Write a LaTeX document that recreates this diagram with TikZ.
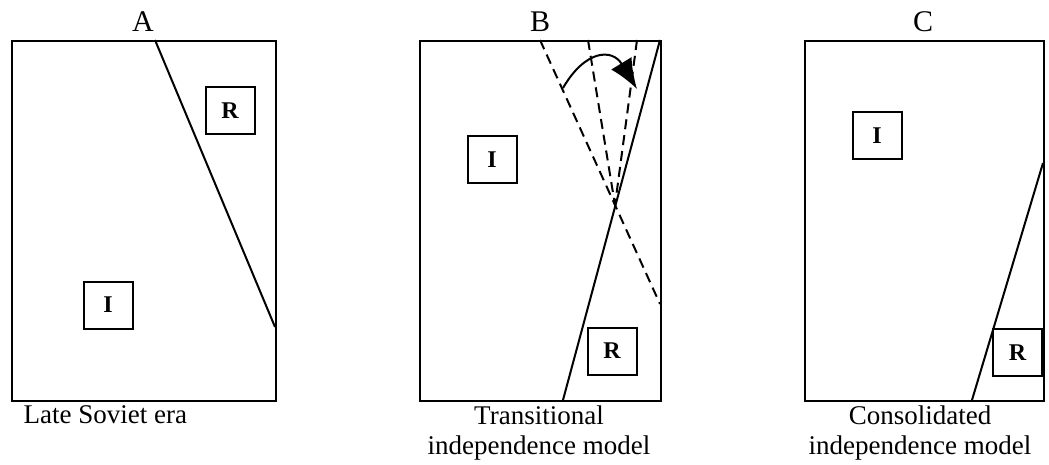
\documentclass[tikz,border=0pt]{standalone}
\usepackage{fontspec}
\setmainfont{Liberation Serif}
\usetikzlibrary{arrows.meta}
\begin{document}
\begin{tikzpicture}[x=1pt,y=-1pt,
  frame/.style={draw,line width=2pt},
  party/.style={draw,line width=2pt,minimum width=49pt,minimum height=47pt,inner sep=0pt,font=\fontsize{24}{24}\selectfont\bfseries},
  divide/.style={line width=2pt},
  dashdiv/.style={line width=2pt,dash pattern=on 10pt off 6pt},
  head/.style={font=\fontsize{30}{30}\selectfont,anchor=base},
  caption/.style={font=\fontsize{27}{30}\selectfont,align=center,anchor=north}]
\useasboundingbox (0,0) rectangle (1049,465);
% panel A
\node[frame,minimum width=264pt,minimum height=360pt,inner sep=0pt,anchor=north west] (fa) at (11,40) {};
\node[head] (la) at (143,32) {A};
\coordinate (a1) at (155,40);
\coordinate (a2) at (275,327);
\draw[divide] (a1) -- (a2);
\node[party] (ra) at (230,111) {R};
\node[party] (ia) at (108,305) {I};
\node[caption,anchor=north west] (ca) at (20,402) {Late Soviet era};
% panel B
\node[frame,minimum width=241pt,minimum height=360pt,inner sep=0pt,anchor=north west] (fb) at (419,40) {};
\node[head] (lb) at (540,32) {B};
\coordinate (b0) at (615,205);
\coordinate (bs1) at (660,40);
\coordinate (bs2) at (563,400);
\coordinate (bd1) at (540,40);
\coordinate (bd1e) at (660,304);
\coordinate (bd2) at (588,40);
\coordinate (bd3) at (637,40);
\draw[divide] (bs1) -- (bs2);
\draw[dashdiv] (bd1) -- (bd1e);
\draw[dashdiv] (bd2) -- (b0);
\draw[dashdiv] (bd3) -- (b0);
\coordinate (arA) at (563,88);
\coordinate (arB) at (637,89);
\draw[line width=2pt,-{Latex[length=30pt,width=24pt]}] (arA) .. controls (585,50) and (612,48) .. (arB);
\node[party] (ib) at (492,160) {I};
\node[party] (rb) at (612,351) {R};
\node[caption] (cb) at (539,402) {Transitional\\independence model};
% panel C
\node[frame,minimum width=239pt,minimum height=360pt,inner sep=0pt,anchor=north west] (fc) at (804,40) {};
\node[head] (lc) at (923,32) {C};
\coordinate (c1) at (972,400);
\coordinate (c2) at (1043,163);
\draw[divide] (c1) -- (c2);
\node[party] (ic) at (877,136) {I};
\node[party,anchor=north east] (rc) at (1043,328) {R};
\node[caption] (cc) at (920,402) {Consolidated\\independence model};
\end{tikzpicture}
\end{document}
